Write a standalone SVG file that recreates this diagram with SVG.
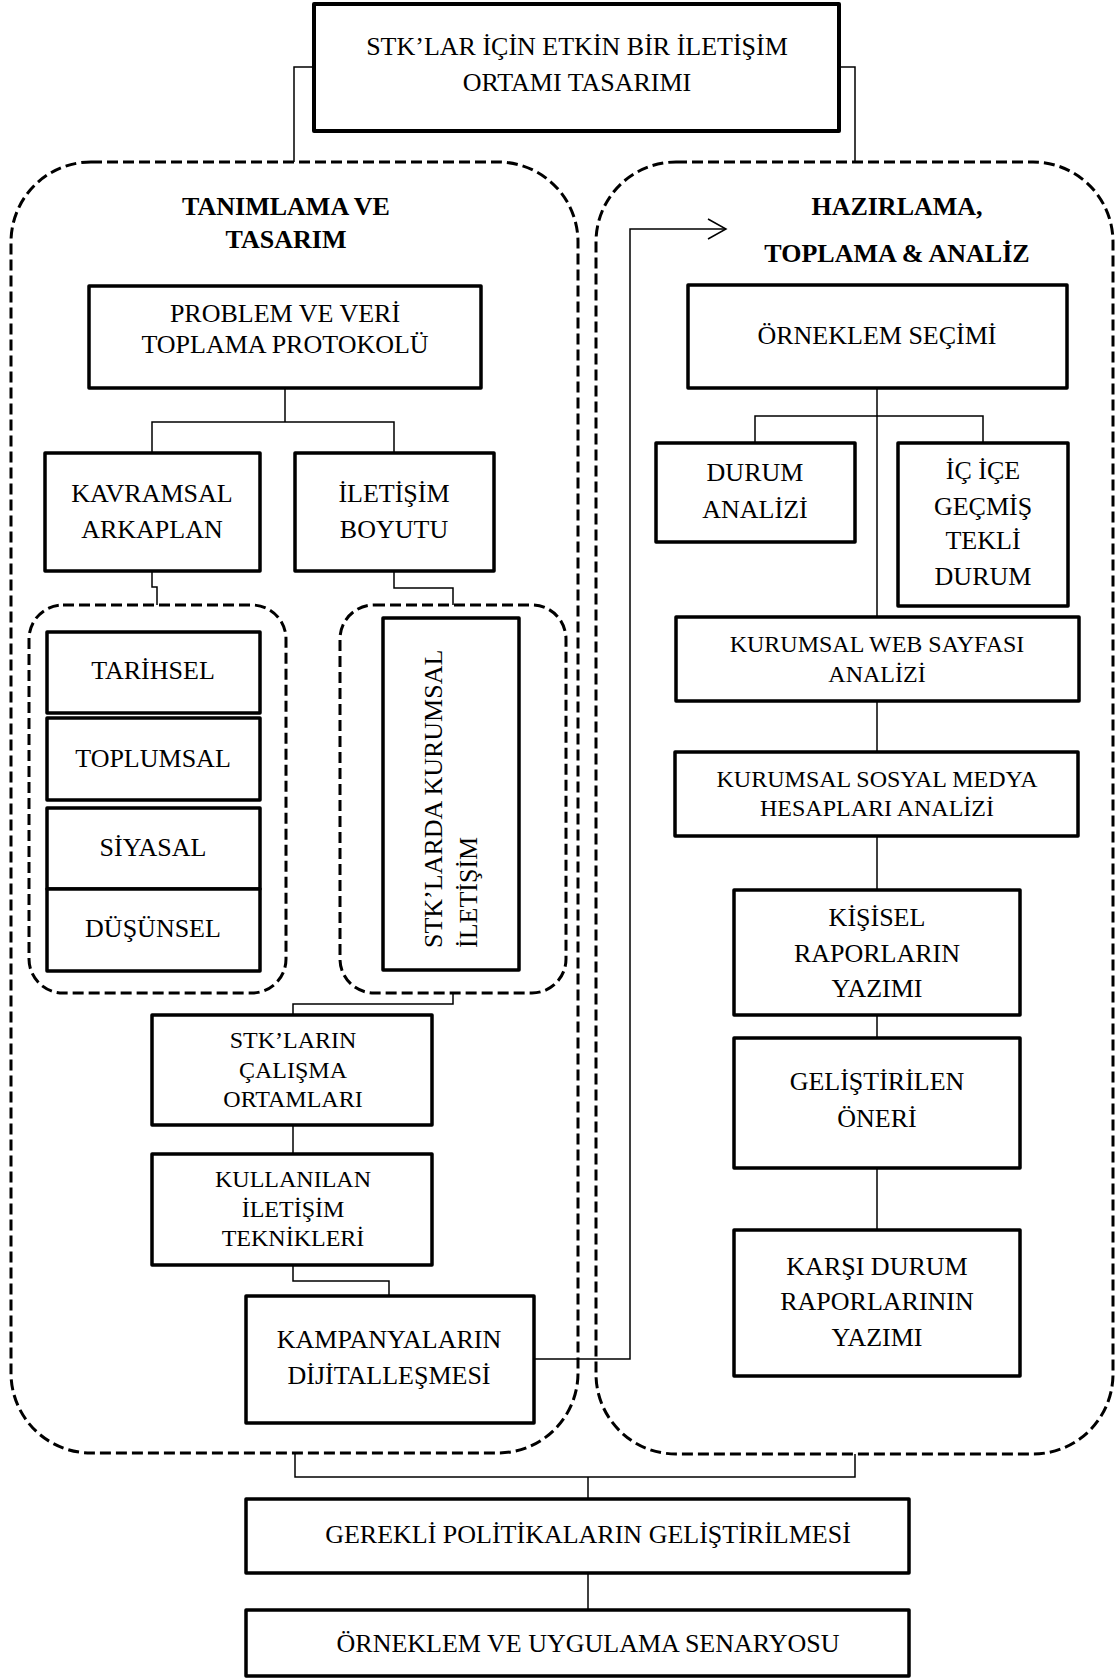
<svg xmlns="http://www.w3.org/2000/svg" width="1120" height="1679" viewBox="0 0 1120 1679">
  <style>
    .box { fill: #fff; stroke: #000; stroke-width: 3.5; stroke-linejoin: round; }
    .grp { fill: none; stroke: #000; stroke-width: 3; stroke-dasharray: 11 5; }
    .ln { fill: none; stroke: #000; stroke-width: 1.5; }
    .t { font-family: "Liberation Serif", "Times New Roman", serif; font-size: 26px; text-anchor: middle; fill: #000; }
    .s { font-size: 24px; }
    .b { font-weight: bold; }
    .v { text-anchor: start; }
  </style>
  <rect width="1120" height="1679" fill="#fff"/>

  <!-- dashed phase containers -->
  <g id="phase-left">
    <rect class="grp" x="11" y="162" width="567" height="1291" rx="80" ry="80"/>
    <text class="t b" x="286" y="215">TANIMLAMA VE</text>
    <text class="t b" x="286" y="248">TASARIM</text>
  </g>
  <g id="phase-right">
    <rect class="grp" x="596" y="162" width="517" height="1292" rx="80" ry="80"/>
    <text class="t b" x="897" y="215">HAZIRLAMA,</text>
    <text class="t b" x="897" y="262">TOPLAMA &amp; ANALİZ</text>
  </g>
  <g id="group-context">
    <rect class="grp" x="29" y="605" width="257" height="388" rx="34" ry="34"/>
  </g>
  <g id="group-comm">
    <rect class="grp" x="340" y="605" width="226" height="388" rx="34" ry="34"/>
  </g>

  <!-- connectors -->
  <g id="connectors">
    <path class="ln" d="M314,67 H294 V162"/>
    <path class="ln" d="M839,67 H855 V162"/>
    <path class="ln" d="M285,388 V422"/>
    <path class="ln" d="M152,453 V422 H394 V453"/>
    <path class="ln" d="M152,571 V587 H157 V605"/>
    <path class="ln" d="M394,571 V588 H453 V605"/>
    <path class="ln" d="M453,993 V1004 H293 V1015"/>
    <path class="ln" d="M293,1125 V1154"/>
    <path class="ln" d="M293,1265 V1281 H389 V1296"/>
    <path class="ln" d="M534,1359 H630 V229 H726"/>
    <path class="ln" d="M708,219 L726,229 L708,239"/>
    <path class="ln" d="M877,388 V617"/>
    <path class="ln" d="M755,443 V416 H983 V443"/>
    <path class="ln" d="M877,701 V752"/>
    <path class="ln" d="M877,836 V890"/>
    <path class="ln" d="M877,1015 V1038"/>
    <path class="ln" d="M877,1168 V1230"/>
    <path class="ln" d="M295,1453 V1477 H855 V1454"/>
    <path class="ln" d="M588,1477 V1499"/>
    <path class="ln" d="M588,1573 V1610"/>
  </g>

  <!-- nodes -->
  <g id="n-root">
    <rect class="box" x="314" y="4" width="525" height="127" style="stroke-width:4"/>
    <text class="t" x="577" y="55">STK’LAR İÇİN ETKİN BİR İLETİŞİM</text>
    <text class="t" x="577" y="91">ORTAMI TASARIMI</text>
  </g>

  <g id="n-problem">
    <rect class="box" x="89" y="286" width="392" height="102"/>
    <text class="t" x="285" y="322">PROBLEM VE VERİ</text>
    <text class="t" x="285" y="353">TOPLAMA PROTOKOLÜ</text>
  </g>
  <g id="n-kavramsal">
    <rect class="box" x="45" y="453" width="215" height="118"/>
    <text class="t" x="152" y="502">KAVRAMSAL</text>
    <text class="t" x="152" y="538">ARKAPLAN</text>
  </g>
  <g id="n-iletisim">
    <rect class="box" x="295" y="453" width="199" height="118"/>
    <text class="t" x="394" y="502">İLETİŞİM</text>
    <text class="t" x="394" y="538">BOYUTU</text>
  </g>
  <g id="n-tarihsel">
    <rect class="box" x="47" y="632" width="213" height="81"/>
    <text class="t" x="153" y="679">TARİHSEL</text>
  </g>
  <g id="n-toplumsal">
    <rect class="box" x="47" y="718" width="213" height="82"/>
    <text class="t" x="153" y="767">TOPLUMSAL</text>
  </g>
  <g id="n-siyasal">
    <rect class="box" x="47" y="808" width="213" height="81"/>
    <text class="t" x="153" y="856">SİYASAL</text>
  </g>
  <g id="n-dusunsel">
    <rect class="box" x="47" y="889" width="213" height="82"/>
    <text class="t" x="153" y="937">DÜŞÜNSEL</text>
  </g>
  <g id="n-kurumsal-iletisim">
    <rect class="box" x="383" y="618" width="136" height="352"/>
    <text class="t v" transform="translate(442,948) rotate(-90)">STK’LARDA KURUMSAL</text>
    <text class="t v" transform="translate(477,948) rotate(-90)">İLETİŞİM</text>
  </g>
  <g id="n-calisma">
    <rect class="box" x="152" y="1015" width="280" height="110"/>
    <text class="t s" x="293" y="1048">STK’LARIN</text>
    <text class="t s" x="293" y="1078">ÇALIŞMA</text>
    <text class="t s" x="293" y="1107">ORTAMLARI</text>
  </g>
  <g id="n-teknikler">
    <rect class="box" x="152" y="1154" width="280" height="111"/>
    <text class="t s" x="293" y="1187">KULLANILAN</text>
    <text class="t s" x="293" y="1217">İLETİŞİM</text>
    <text class="t s" x="293" y="1246">TEKNİKLERİ</text>
  </g>
  <g id="n-kampanya">
    <rect class="box" x="246" y="1296" width="288" height="127"/>
    <text class="t" x="389" y="1348">KAMPANYALARIN</text>
    <text class="t" x="389" y="1384">DİJİTALLEŞMESİ</text>
  </g>

  <g id="n-orneklem-secimi">
    <rect class="box" x="688" y="285" width="379" height="103"/>
    <text class="t" x="877" y="344">ÖRNEKLEM SEÇİMİ</text>
  </g>
  <g id="n-durum-analizi">
    <rect class="box" x="656" y="443" width="199" height="99"/>
    <text class="t" x="755" y="481">DURUM</text>
    <text class="t" x="755" y="518">ANALİZİ</text>
  </g>
  <g id="n-ic-ice">
    <rect class="box" x="898" y="443" width="170" height="163"/>
    <text class="t" x="983" y="479">İÇ İÇE</text>
    <text class="t" x="983" y="515">GEÇMİŞ</text>
    <text class="t" x="983" y="549">TEKLİ</text>
    <text class="t" x="983" y="585">DURUM</text>
  </g>
  <g id="n-web">
    <rect class="box" x="676" y="617" width="403" height="84"/>
    <text class="t s" x="877" y="652">KURUMSAL WEB SAYFASI</text>
    <text class="t s" x="877" y="682">ANALİZİ</text>
  </g>
  <g id="n-sosyal-medya">
    <rect class="box" x="675" y="752" width="403" height="84"/>
    <text class="t s" x="877" y="787">KURUMSAL SOSYAL MEDYA</text>
    <text class="t s" x="877" y="816">HESAPLARI ANALİZİ</text>
  </g>
  <g id="n-kisisel">
    <rect class="box" x="734" y="890" width="286" height="125"/>
    <text class="t" x="877" y="926">KİŞİSEL</text>
    <text class="t" x="877" y="962">RAPORLARIN</text>
    <text class="t" x="877" y="997">YAZIMI</text>
  </g>
  <g id="n-oneri">
    <rect class="box" x="734" y="1038" width="286" height="130"/>
    <text class="t" x="877" y="1090">GELİŞTİRİLEN</text>
    <text class="t" x="877" y="1127">ÖNERİ</text>
  </g>
  <g id="n-karsi-durum">
    <rect class="box" x="734" y="1230" width="286" height="146"/>
    <text class="t" x="877" y="1275">KARŞI DURUM</text>
    <text class="t" x="877" y="1310">RAPORLARININ</text>
    <text class="t" x="877" y="1346">YAZIMI</text>
  </g>

  <g id="n-politikalar">
    <rect class="box" x="246" y="1499" width="663" height="74"/>
    <text class="t" x="588" y="1543">GEREKLİ POLİTİKALARIN GELİŞTİRİLMESİ</text>
  </g>
  <g id="n-senaryo">
    <rect class="box" x="246" y="1610" width="663" height="66"/>
    <text class="t" x="588" y="1652">ÖRNEKLEM VE UYGULAMA SENARYOSU</text>
  </g>
</svg>
